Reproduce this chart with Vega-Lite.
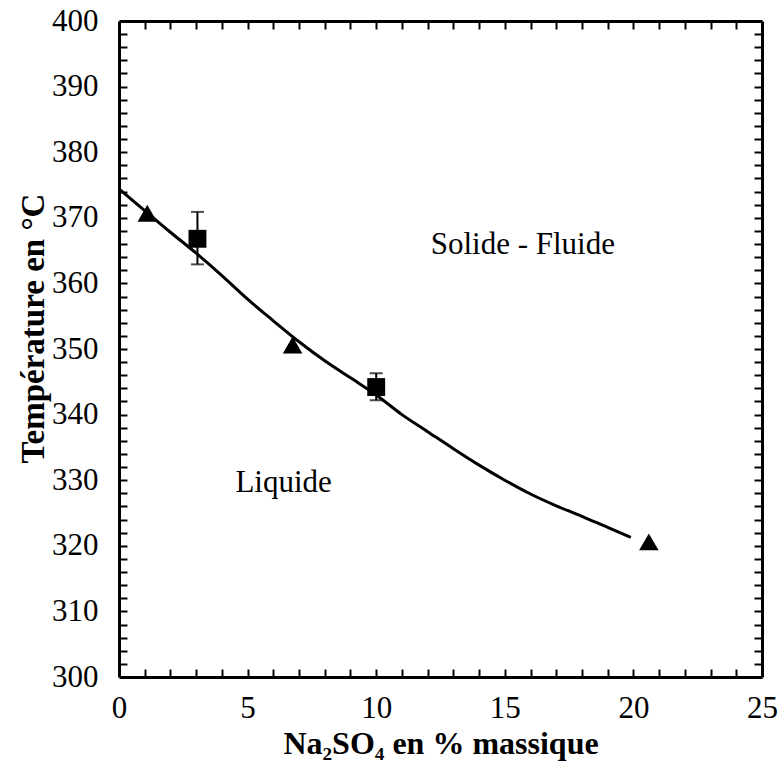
{
  "$schema": "https://vega.github.io/schema/vega-lite/v6.json",
  "width": 643,
  "height": 656,
  "autosize": "none",
  "padding": {"left": 119, "top": 21, "right": 17, "bottom": 85},
  "background": "white",
  "config": {
    "view": {"stroke": null},
    "axis": {"grid": false, "labelFont": "Liberation Serif, Times New Roman, DejaVu Serif, serif", "titleFont": "Liberation Serif, Times New Roman, DejaVu Serif, serif", "labelColor": "black", "titleColor": "black", "domainColor": "black"},
    "text": {"font": "Liberation Serif, Times New Roman, DejaVu Serif, serif"}
  },
  "datasets": {
    "curve": [
      {"x": 0, "t": 374.4}, {"x": 1, "t": 371.1}, {"x": 2, "t": 367.8}, {"x": 3, "t": 364.6},
      {"x": 4, "t": 361.2}, {"x": 5, "t": 357.6}, {"x": 6, "t": 354.3}, {"x": 7, "t": 351.1},
      {"x": 8, "t": 348.2}, {"x": 9, "t": 345.6}, {"x": 10, "t": 343.0}, {"x": 11, "t": 340.0},
      {"x": 12, "t": 337.4}, {"x": 13, "t": 334.8}, {"x": 14, "t": 332.3}, {"x": 15, "t": 330.0},
      {"x": 16, "t": 327.9}, {"x": 17, "t": 326.1}, {"x": 18, "t": 324.5}, {"x": 19, "t": 322.8},
      {"x": 19.9, "t": 321.3}
    ],
    "triangles": [
      {"x": 1.1, "t": 370.7}, {"x": 6.75, "t": 350.6}, {"x": 20.6, "t": 320.6}
    ],
    "squares": [
      {"x": 3.05, "t": 366.8, "lo": 362.9, "hi": 370.9},
      {"x": 10.0, "t": 344.2, "lo": 342.2, "hi": 346.3}
    ],
    "labels": [
      {"x": 6.4, "t": 329.6, "label": "Liquide"},
      {"x": 15.7, "t": 365.9, "label": "Solide - Fluide"}
    ]
  },
  "resolve": {"axis": {"x": "independent", "y": "independent"}},
  "layer": [
    {
      "data": {"name": "curve"},
      "mark": {"type": "line", "color": "black", "strokeWidth": 3, "interpolate": "monotone"},
      "encoding": {
        "x": {"field": "x", "type": "quantitative", "scale": {"domain": [0, 25], "nice": false, "zero": false},
          "axis": {"orient": "bottom", "values": [0, 5, 10, 15, 20, 25], "ticks": false, "labelPadding": 16, "labelFontSize": 31, "labelFlush": false, "labelOverlap": false, "domain": true, "domainWidth": 3,
            "title": "Na₂SO₄ en % massique", "titleFontSize": 32, "titleFontWeight": "bold", "titleBaseline": "alphabetic", "titleY": 76, "titleX": 321.5, "titleAlign": "center"}},
        "y": {"field": "t", "type": "quantitative", "scale": {"domain": [300, 400], "nice": false, "zero": false},
          "axis": {"orient": "left", "values": [300, 310, 320, 330, 340, 350, 360, 370, 380, 390, 400], "ticks": false, "labelPadding": 21, "labelFontSize": 31, "labelFlush": false, "labelOverlap": false, "domain": true, "domainWidth": 3,
            "title": "Température en °C", "titleFontSize": 33, "titleFontWeight": "bold", "titleAngle": -90, "titleBaseline": "alphabetic", "titleAlign": "center", "titleX": -76, "titleY": 307}}
      }
    },
    {
      "data": {"name": "triangles"},
      "mark": {"type": "point", "shape": "triangle-up", "filled": true, "color": "black", "opacity": 1, "size": 380},
      "encoding": {
        "x": {"field": "x", "type": "quantitative", "scale": {"domain": [0, 25], "nice": false, "zero": false},
          "axis": {"orient": "bottom", "values": [1,2,3,4,5,6,7,8,9,10,11,12,13,14,15,16,17,18,19,20,21,22,23,24], "ticks": true, "tickSize": -8, "tickColor": "#000000", "tickOpacity": 1, "tickWidth": 2, "zindex": 1, "labels": false, "domain": false, "title": null}},
        "y": {"field": "t", "type": "quantitative", "scale": {"domain": [300, 400], "nice": false, "zero": false},
          "axis": {"orient": "left", "values": [302,304,306,308,310,312,314,316,318,320,322,324,326,328,330,332,334,336,338,340,342,344,346,348,350,352,354,356,358,360,362,364,366,368,370,372,374,376,378,380,382,384,386,388,390,392,394,396,398], "ticks": true, "tickSize": -8, "tickColor": "#000000", "tickOpacity": 1, "tickWidth": 2, "zindex": 1, "labels": false, "domain": false, "title": null}}
      }
    },
    {
      "data": {"name": "squares"},
      "mark": {"type": "rule", "color": "black", "strokeWidth": 2},
      "encoding": {
        "x": {"field": "x", "type": "quantitative", "scale": {"domain": [0, 25], "nice": false, "zero": false},
          "axis": {"orient": "top", "values": [0, 5, 10, 15, 20, 25], "ticks": false, "labels": false, "domain": true, "domainWidth": 3, "title": null}},
        "y": {"field": "lo", "type": "quantitative", "scale": {"domain": [300, 400], "nice": false, "zero": false},
          "axis": {"orient": "right", "values": [300, 310, 320, 330, 340, 350, 360, 370, 380, 390, 400], "ticks": false, "labels": false, "domain": true, "domainWidth": 3, "title": null}},
        "y2": {"field": "hi"}
      }
    },
    {
      "data": {"name": "squares"},
      "mark": {"type": "tick", "orient": "horizontal", "color": "black", "size": 13, "thickness": 2},
      "encoding": {
        "x": {"field": "x", "type": "quantitative", "scale": {"domain": [0, 25], "nice": false, "zero": false},
          "axis": {"orient": "top", "values": [1,2,3,4,5,6,7,8,9,10,11,12,13,14,15,16,17,18,19,20,21,22,23,24], "ticks": true, "tickSize": -8, "tickColor": "#000000", "tickOpacity": 1, "tickWidth": 2, "zindex": 1, "labels": false, "domain": false, "title": null}},
        "y": {"field": "lo", "type": "quantitative", "scale": {"domain": [300, 400], "nice": false, "zero": false},
          "axis": {"orient": "right", "values": [302,304,306,308,310,312,314,316,318,320,322,324,326,328,330,332,334,336,338,340,342,344,346,348,350,352,354,356,358,360,362,364,366,368,370,372,374,376,378,380,382,384,386,388,390,392,394,396,398], "ticks": true, "tickSize": -8, "tickColor": "#000000", "tickOpacity": 1, "tickWidth": 2, "zindex": 1, "labels": false, "domain": false, "title": null}}
      }
    },
    {
      "data": {"name": "squares"},
      "mark": {"type": "tick", "orient": "horizontal", "color": "black", "size": 13, "thickness": 2},
      "encoding": {
        "x": {"field": "x", "type": "quantitative", "scale": {"domain": [0, 25], "nice": false, "zero": false}, "axis": null},
        "y": {"field": "hi", "type": "quantitative", "scale": {"domain": [300, 400], "nice": false, "zero": false}, "axis": null}
      }
    },
    {
      "data": {"name": "squares"},
      "mark": {"type": "point", "shape": "square", "filled": true, "color": "black", "opacity": 1, "size": 320},
      "encoding": {
        "x": {"field": "x", "type": "quantitative", "scale": {"domain": [0, 25], "nice": false, "zero": false}, "axis": null},
        "y": {"field": "t", "type": "quantitative", "scale": {"domain": [300, 400], "nice": false, "zero": false}, "axis": null}
      }
    },
    {
      "data": {"name": "labels"},
      "mark": {"type": "text", "fontSize": 31, "color": "black", "align": "center", "baseline": "middle"},
      "encoding": {
        "x": {"field": "x", "type": "quantitative", "scale": {"domain": [0, 25], "nice": false, "zero": false}, "axis": null},
        "y": {"field": "t", "type": "quantitative", "scale": {"domain": [300, 400], "nice": false, "zero": false}, "axis": null},
        "text": {"field": "label"}
      }
    }
  ]
}
